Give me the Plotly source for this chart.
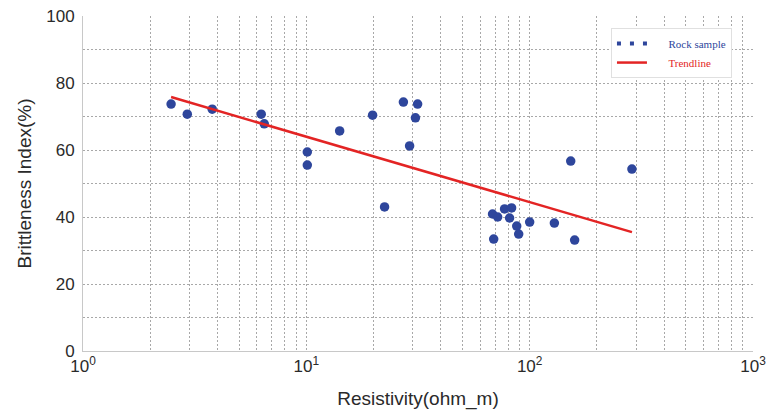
import plotly.graph_objects as go

# Rock samples: resistivity (ohm_m) and brittleness index (%)
resistivity = [2.48, 2.93, 3.79, 6.28, 6.48, 10.1, 10.1, 14.1, 19.8, 22.4,
               27.2, 29.0, 30.8, 31.5, 68.2, 71.9, 69.0, 77.2, 83.0, 81.3,
               87.5, 89.3, 100.0, 129.0, 152.7, 159.0, 287.0]
brittleness = [73.7, 70.7, 72.2, 70.7, 67.8, 59.4, 55.5, 65.7, 70.4, 43.0,
               74.3, 61.2, 69.6, 73.7, 40.9, 40.0, 33.4, 42.4, 42.7, 39.7,
               37.3, 34.9, 38.5, 38.2, 56.7, 33.1, 54.3]

# Trendline endpoints
trend_x = [2.48, 287.0]
trend_y = [75.8, 35.5]

x_tickvals = [1, 10, 100, 1000]
x_ticktext = ["10<sup>0</sup>", "10<sup>1</sup>", "10<sup>2</sup>", "10<sup>3</sup>"]
y_tickvals = [0, 20, 40, 60, 80, 100]

BLUE = "#2e469c"
RED = "#e32424"

fig = go.Figure()
fig.add_trace(go.Scatter(x=resistivity, y=brittleness, mode="markers",
                         marker=dict(color=BLUE, size=9.5), showlegend=False))
fig.add_trace(go.Scatter(x=trend_x, y=trend_y, mode="lines",
                         line=dict(color=RED, width=2.5), showlegend=False))
# legend entries
pad = "&nbsp;" * 6
fig.add_trace(go.Scatter(x=[None], y=[None], mode="lines",
                         line=dict(color=BLUE, width=4, dash="4px,9px"),
                         name=pad + '<span style="color:#2e469c">Rock sample</span>'))
fig.add_trace(go.Scatter(x=[None], y=[None], mode="lines",
                         line=dict(color=RED, width=2.5),
                         name=pad + '<span style="color:#e32424">Trendline</span>'))

minor_x = [k * 10 ** d for d in range(3) for k in range(2, 10)]

grid_color = "#a8a8a8"
gdash = "2px,2px"
fig.update_layout(
    width=768, height=414,
    margin=dict(l=83, r=15, t=16, b=63),
    paper_bgcolor="white", plot_bgcolor="white",
    font=dict(family="Liberation Sans, Arial, sans-serif", color="#2a2a2a"),
    xaxis=dict(type="log", range=[0, 3], tickvals=x_tickvals, ticktext=x_ticktext,
               tickfont=dict(size=17), showgrid=True, gridcolor=grid_color,
               griddash=gdash, gridwidth=1, automargin=False,
               minor=dict(tickvals=minor_x, showgrid=True, gridcolor=grid_color,
                          griddash=gdash, gridwidth=1),
               showline=True, linecolor="#c8c8c8", linewidth=1,
               zeroline=False, ticks="",
               title=dict(text="Resistivity(ohm_m)", font=dict(size=19), standoff=16)),
    yaxis=dict(range=[0, 100], tickvals=y_tickvals, tickfont=dict(size=17),
               showgrid=True, gridcolor=grid_color, griddash=gdash, gridwidth=1,
               automargin=False,
               minor=dict(dtick=10, showgrid=True, gridcolor=grid_color,
                          griddash=gdash, gridwidth=1),
               showline=True, linecolor="#c8c8c8", linewidth=1,
               zeroline=False, ticks="", ticklabelstandoff=4,
               title=dict(text="Brittleness Index(%)", font=dict(size=19), standoff=9)),
    legend=dict(x=0.788, y=0.964, xanchor="left", yanchor="top",
                bgcolor="white", bordercolor="#e0e0e0", borderwidth=1,
                font=dict(family="Liberation Serif, Times New Roman, serif", size=11),
                tracegroupgap=0, itemwidth=30),
)

fig.write_html("out.html")
